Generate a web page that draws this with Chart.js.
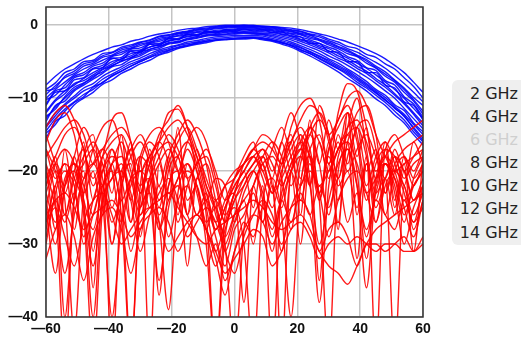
<!DOCTYPE html>
<html>
<head>
<meta charset="utf-8">
<script src="https://cdn.jsdelivr.net/npm/chart.js@4"></script>
<style>
  html, body { margin: 0; padding: 0; background: #fff; overflow: hidden; }
  #wrap { position: absolute; left: 0; top: 0; width: 440px; height: 340px; }
  #legend {
    position: absolute; left: 452px; top: 80px; width: 66px; height: 163px;
    padding: 2px 3px 0 0; background: #efefef; border-radius: 6px 0 0 6px;
    font-family: "DejaVu Sans", sans-serif; font-size: 16px; line-height: 23.1px;
    text-align: right; color: #222;
  }
  #legend .off { color: #cfcfcf; }
</style>
</head>
<body>
<div id="wrap"><canvas id="patternChart" width="440" height="340"></canvas></div>
<div id="legend"></div>
<script>
const angles = [-60,-57,-54,-51,-48,-45,-42,-39,-36,-33,-30,-27,-24,-21,-18,-15,-12,-9,-6,-3,0,3,6,9,12,15,18,21,24,27,30,33,36,39,42,45,48,51,54,57,60];
const freqLabels = ["2 GHz", "4 GHz", "6 GHz", "8 GHz", "10 GHz", "12 GHz", "14 GHz"];
const hiddenFreqs = ["6 GHz"];

// co-polar cuts (blue), 3 cuts per frequency
const copol2 = [
  [-8.2,-7.0,-6.0,-5.3,-4.6,-4.0,-3.5,-3.0,-2.7,-2.2,-1.9,-1.5,-1.2,-1.0,-0.7,-0.5,-0.4,-0.2,-0.1,0,0,0,-0.1,-0.1,-0.2,-0.3,-0.4,-0.6,-0.9,-1.2,-1.5,-1.9,-2.3,-2.8,-3.3,-3.9,-4.6,-5.5,-6.5,-7.8,-9.2],
  [-14.5,-12.8,-11.5,-10.5,-9.5,-8.8,-7.8,-7.0,-6.3,-5.6,-5.0,-4.4,-3.8,-3.4,-3.0,-2.7,-2.5,-2.2,-2.0,-1.9,-1.9,-1.8,-1.7,-1.9,-2.1,-2.4,-2.8,-3.3,-3.9,-4.5,-5.2,-5.9,-6.6,-7.5,-8.4,-9.3,-10.3,-11.3,-12.5,-14.0,-15.5],
  [-11.0,-9.2,-9.0,-7.5,-7.2,-6.0,-5.8,-4.5,-4.8,-3.6,-3.8,-2.6,-2.8,-1.8,-2.0,-1.2,-1.5,-0.8,-1.1,-0.6,-0.9,-0.5,-0.8,-0.6,-1.0,-0.9,-1.5,-1.6,-2.5,-2.5,-3.6,-3.7,-5.0,-5.0,-6.5,-6.5,-8.2,-8.6,-10.5,-11.0,-13.0]
];
const copol4 = [
  [-12.5,-11.5,-9.8,-8.5,-7.9,-7.2,-6.1,-5.6,-4.9,-4.5,-3.7,-3.3,-2.9,-2.4,-2.2,-1.8,-1.6,-1.3,-1.2,-1.0,-1.1,-0.9,-1.0,-1.1,-1.2,-1.5,-1.8,-2.2,-2.7,-3.2,-3.8,-4.5,-5.1,-5.9,-6.6,-7.6,-8.5,-9.6,-10.8,-12.2,-13.8],
  [-9.5,-8.3,-7.2,-6.6,-5.6,-5.2,-4.4,-4.1,-3.4,-3.1,-2.6,-2.3,-1.8,-1.6,-1.2,-1.0,-0.7,-0.6,-0.4,-0.3,-0.2,-0.2,-0.2,-0.3,-0.4,-0.6,-0.8,-1.1,-1.4,-1.9,-2.3,-2.9,-3.4,-4.1,-4.7,-5.6,-6.4,-7.5,-8.6,-9.9,-11.0],
  [-13.2,-11.0,-10.4,-9.0,-8.2,-7.4,-6.6,-5.7,-5.4,-4.6,-4.2,-3.5,-3.2,-2.6,-2.4,-2.0,-1.8,-1.5,-1.4,-1.3,-1.2,-1.1,-1.2,-1.3,-1.6,-1.9,-2.3,-2.8,-3.3,-3.9,-4.6,-5.2,-6.0,-6.8,-7.7,-8.8,-9.6,-10.9,-11.7,-13.4,-14.6]
];
const copol6 = [];
const copol8 = [
  [-10.2,-9.6,-8.2,-7.0,-6.5,-5.6,-5.2,-4.3,-4.0,-3.3,-3.1,-2.5,-2.2,-1.8,-1.5,-1.3,-1.0,-0.9,-0.7,-0.6,-0.5,-0.4,-0.4,-0.5,-0.6,-0.8,-1.1,-1.3,-1.8,-2.1,-2.7,-3.2,-3.9,-4.3,-5.2,-5.9,-7.0,-7.8,-9.2,-10.4,-12.2],
  [-15.5,-13.2,-12.4,-10.9,-10.0,-9.2,-8.1,-7.5,-6.6,-6.0,-5.3,-4.8,-4.1,-3.7,-3.2,-2.9,-2.6,-2.4,-2.1,-2.0,-1.9,-1.9,-1.8,-2.0,-2.2,-2.6,-3.0,-3.6,-4.2,-4.9,-5.6,-6.4,-7.3,-8.1,-9.0,-10.1,-11.0,-12.3,-13.4,-15.0,-16.4],
  [-8.8,-7.9,-6.5,-6.0,-5.0,-4.8,-3.9,-3.7,-3.0,-2.7,-2.3,-2.0,-1.5,-1.3,-1.0,-0.8,-0.5,-0.4,-0.2,-0.1,-0.1,0,0,-0.2,-0.2,-0.4,-0.6,-0.8,-1.2,-1.4,-1.9,-2.3,-2.9,-3.2,-4.0,-4.4,-5.3,-6.0,-7.2,-8.4,-10.0]
];
const copol10 = [
  [-12.0,-10.4,-9.4,-8.0,-7.6,-6.8,-6.0,-5.3,-4.6,-4.2,-3.5,-3.0,-2.6,-2.2,-1.9,-1.6,-1.4,-1.1,-1.0,-0.9,-0.8,-0.8,-0.8,-0.9,-1.0,-1.3,-1.6,-2.0,-2.4,-3.0,-3.5,-4.2,-4.8,-5.6,-6.3,-7.3,-8.2,-9.4,-10.6,-12.0,-13.4],
  [-13.8,-12.0,-10.8,-9.7,-8.6,-8.0,-7.0,-6.3,-5.7,-5.0,-4.5,-3.9,-3.4,-3.0,-2.7,-2.3,-2.1,-1.8,-1.6,-1.5,-1.4,-1.4,-1.4,-1.5,-1.8,-2.1,-2.5,-3.0,-3.6,-4.2,-4.8,-5.5,-6.2,-7.1,-8.0,-9.0,-9.9,-11.1,-12.2,-13.6,-15.0],
  [-10.8,-9.0,-8.6,-7.2,-6.8,-5.9,-5.5,-4.6,-4.4,-3.5,-3.4,-2.6,-2.5,-1.9,-1.8,-1.3,-1.3,-0.9,-0.9,-0.7,-0.6,-0.5,-0.5,-0.6,-0.7,-1.0,-1.2,-1.6,-2.0,-2.5,-3.0,-3.5,-4.3,-4.8,-5.8,-6.2,-7.6,-8.2,-9.8,-10.8,-12.6]
];
const copol12 = [
  [-9.0,-8.6,-7.0,-6.3,-5.3,-5.0,-4.2,-3.8,-3.2,-2.9,-2.4,-2.1,-1.6,-1.4,-1.1,-0.9,-0.6,-0.5,-0.3,-0.2,-0.1,-0.1,-0.1,-0.2,-0.3,-0.5,-0.7,-0.9,-1.3,-1.6,-2.1,-2.6,-3.2,-3.7,-4.4,-5.1,-5.9,-6.9,-8.0,-9.2,-10.5],
  [-14.0,-12.4,-11.0,-10.0,-9.0,-8.4,-7.4,-6.7,-6.0,-5.3,-4.8,-4.2,-3.6,-3.2,-2.8,-2.5,-2.3,-2.0,-1.8,-1.7,-1.6,-1.6,-1.6,-1.7,-2.0,-2.3,-2.7,-3.1,-3.7,-4.3,-5.0,-5.7,-6.4,-7.3,-8.2,-9.2,-10.2,-11.4,-12.4,-14.2,-15.8],
  [-11.8,-10.2,-9.0,-8.2,-7.3,-6.5,-5.8,-5.0,-4.6,-3.9,-3.6,-3.0,-2.7,-2.1,-1.9,-1.5,-1.3,-1.0,-0.9,-0.8,-0.7,-0.6,-0.6,-0.7,-0.8,-1.2,-1.4,-1.9,-2.2,-2.8,-3.2,-3.9,-4.5,-5.2,-5.9,-6.8,-7.8,-8.8,-10.0,-11.4,-12.8]
];
const copol14 = [
  [-12.8,-11.2,-10.0,-8.8,-8.0,-7.0,-6.4,-5.5,-5.0,-4.4,-4.0,-3.3,-3.0,-2.5,-2.3,-1.9,-1.7,-1.4,-1.3,-1.2,-1.0,-1.0,-1.1,-1.2,-1.4,-1.7,-2.0,-2.5,-3.0,-3.5,-4.2,-4.8,-5.5,-6.3,-7.1,-8.0,-9.0,-10.0,-11.4,-12.8,-14.2],
  [-10.0,-8.8,-7.8,-6.8,-6.0,-5.4,-4.8,-4.2,-3.7,-3.2,-2.8,-2.4,-2.0,-1.7,-1.4,-1.1,-0.9,-0.7,-0.5,-0.4,-0.3,-0.3,-0.3,-0.4,-0.5,-0.7,-0.9,-1.2,-1.6,-2.0,-2.5,-3.0,-3.6,-4.2,-4.9,-5.8,-6.7,-7.6,-8.8,-10.2,-11.8],
  [-14.8,-13.6,-11.8,-10.6,-9.8,-8.5,-7.9,-6.9,-6.3,-5.6,-5.0,-4.4,-4.0,-3.5,-3.1,-2.8,-2.4,-2.2,-2.0,-1.9,-1.8,-1.7,-1.7,-1.8,-2.0,-2.4,-2.8,-3.4,-3.9,-4.6,-5.3,-6.0,-6.8,-7.8,-8.6,-9.6,-10.6,-11.8,-13.0,-14.6,-16.0]
];

// cross-polar cuts (red), 4 cuts per frequency
const xpol2 = [
  [-18,-16,-14,-13,-15,-19,-17,-15,-14,-16,-20,-18,-16,-14,-13,-15,-18,-22,-25,-22,-20,-19,-17,-16,-17,-19,-16,-13,-11,-12,-15,-13,-10,-9,-11,-15,-18,-20,-19,-18,-17],
  [-24,-30,-22,-20,-25,-33,-24,-21,-19,-23,-28,-22,-19,-17,-20,-26,-21,-19,-24,-30,-26,-22,-20,-23,-29,-24,-20,-18,-22,-30,-24,-19,-17,-22,-28,-23,-19,-21,-26,-22,-20],
  [-20,-25,-34,-26,-21,-19,-24,-40,-27,-22,-20,-23,-35,-25,-21,-19,-22,-28,-33,-28,-24,-22,-20,-24,-31,-23,-19,-17,-21,-38,-22,-17,-15,-20,-32,-21,-18,-20,-25,-29,-24],
  [-22,-18,-26,-20,-17,-24,-19,-30,-21,-17,-23,-18,-28,-20,-18,-24,-22,-27,-25,-29,-26,-24,-22,-19,-23,-18,-15,-21,-14,-19,-13,-17,-12,-18,-14,-22,-16,-24,-18,-20,-17]
];
const xpol4 = [
  [-27,-22,-19,-21,-26,-45,-25,-21,-20,-24,-31,-26,-23,-21,-24,-29,-27,-25,-27,-31,-34,-29,-26,-24,-26,-30,-25,-22,-20,-23,-29,-24,-21,-20,-23,-27,-22,-20,-22,-26,-23],
  [-16,-13,-12,-15,-21,-17,-14,-13,-17,-24,-18,-15,-14,-16,-20,-16,-14,-16,-21,-26,-23,-19,-17,-15,-16,-19,-14,-11,-10,-13,-19,-12,-8,-9,-14,-21,-17,-15,-18,-22,-19],
  [-22,-19,-24,-42,-23,-19,-17,-20,-27,-21,-18,-20,-26,-22,-18,-16,-19,-24,-28,-25,-22,-20,-18,-21,-25,-20,-17,-15,-18,-24,-17,-13,-11,-15,-22,-18,-16,-19,-23,-27,-22],
  [-17,-21,-19,-28,-18,-15,-22,-17,-21,-16,-25,-17,-22,-18,-26,-19,-23,-28,-24,-27,-23,-20,-25,-18,-21,-16,-20,-15,-22,-16,-21,-15,-19,-14,-20,-17,-23,-18,-22,-16,-19]
];
const xpol6 = [];
const xpol8 = [
  [-19,-28,-17,-24,-16,-36,-18,-23,-15,-27,-18,-45,-19,-24,-14,-26,-17,-22,-25,-31,-27,-24,-30,-22,-45,-21,-16,-26,-13,-24,-16,-28,-12,-26,-18,-45,-17,-25,-19,-31,-18],
  [-26,-24,-23,-25,-28,-26,-25,-24,-26,-29,-27,-25,-24,-23,-25,-27,-29,-30,-28,-27,-26,-25,-24,-25,-27,-28,-27,-26,-28,-31,-33,-34,-35.5,-33,-30,-28,-27,-26,-25,-24,-23],
  [-30,-23,-20,-22,-29,-24,-20,-18,-22,-45,-22,-18,-16,-19,-27,-22,-19,-18,-22,-27,-24,-21,-19,-18,-22,-31,-20,-17,-15,-19,-26,-18,-15,-14,-18,-25,-21,-18,-20,-24,-21],
  [-25,-20,-22,-18,-23,-20,-26,-19,-24,-21,-20,-25,-22,-29,-24,-22,-26,-24,-29,-33,-28,-26,-23,-27,-22,-25,-20,-24,-19,-23,-18,-22,-20,-25,-19,-23,-21,-26,-20,-24,-22]
];
const xpol10 = [
  [-32,-28,-26,-29,-35,-29,-26,-25,-28,-34,-28,-26,-25,-27,-31,-28,-26,-28,-32,-37,-31,-28,-26,-27,-30,-27,-25,-24,-26,-31,-28,-27,-29,-33,-30,-30,-31,-30,-29,-31,-30],
  [-21,-18,-15,-14,-17,-22,-18,-13,-12,-16,-23,-19,-15,-13,-11,-14,-20,-24,-21,-22,-27,-23,-20,-18,-16,-18,-22,-18,-14,-12,-15,-21,-16,-12,-11,-15,-23,-19,-17,-16,-15],
  [-25,-34,-22,-19,-24,-40,-23,-20,-26,-45,-24,-21,-27,-39,-23,-20,-22,-30,-45,-29,-25,-30,-45,-24,-21,-26,-40,-22,-18,-24,-45,-20,-17,-22,-36,-22,-19,-23,-30,-25,-22],
  [-23,-27,-21,-19,-22,-26,-20,-17,-21,-27,-19,-16,-18,-23,-21,-17,-20,-25,-31,-27,-23,-21,-19,-17,-20,-16,-12,-16,-22,-11,-15,-21,-14,-10,-17,-24,-19,-22,-27,-21,-18]
];
const xpol12 = [
  [-17,-20,-26,-21,-18,-16,-19,-25,-20,-17,-15,-18,-24,-19,-16,-14,-17,-21,-24,-22,-21,-19,-17,-19,-23,-19,-16,-14,-17,-23,-17,-14,-12,-16,-24,-19,-17,-18,-21,-19,-18],
  [-23,-19,-17,-19,-24,-28,-22,-19,-18,-21,-26,-21,-16,-12,-11.5,-14,-18,-23,-27,-24,-21,-19,-18,-20,-23,-21,-18,-16,-18,-22,-20,-17,-16,-19,-23,-21,-19,-21,-24,-22,-20],
  [-28,-22,-40,-24,-20,-31,-22,-45,-23,-19,-29,-21,-37,-22,-20,-33,-21,-26,-45,-26,-23,-38,-22,-27,-21,-45,-20,-30,-18,-35,-19,-27,-16,-32,-19,-27,-21,-45,-22,-28,-24],
  [-29,-24,-27,-23,-30,-26,-22,-27,-24,-31,-25,-23,-28,-24,-22,-26,-29,-33,-30,-35,-31,-27,-29,-25,-28,-24,-27,-23,-26,-22,-25,-21,-27,-23,-29,-24,-26,-28,-24,-27,-25]
];
const xpol14 = [
  [-27,-25,-29,-33,-27,-24,-23,-26,-30,-28,-26,-25,-27,-31,-29,-27,-26,-28,-31,-34,-32,-30,-28,-29,-33,-31,-28,-27,-29,-32,-30,-29,-30,-29,-30,-31,-30,-30,-31,-31,-29],
  [-14,-12,-11,-13,-17,-21,-18,-16,-15,-18,-22,-19,-17,-16,-18,-21,-19,-17,-20,-24,-22,-20,-18,-17,-19,-22,-19,-16,-14,-16,-20,-17,-14,-13,-16,-20,-18,-16,-15,-14,-13],
  [-19,-24,-45,-23,-19,-17,-21,-30,-22,-18,-16,-19,-25,-18,-15,-13,-15,-19,-26,-30,-45,-28,-22,-19,-18,-21,-28,-19,-15,-13,-16,-24,-18,-14,-13,-17,-26,-20,-18,-21,-19],
  [-15,-19,-23,-18,-14,-17,-22,-19,-16,-20,-25,-21,-18,-15,-17,-21,-26,-23,-28,-25,-21,-18,-16,-20,-17,-14,-18,-22,-17,-15,-19,-16,-20,-17,-15,-18,-21,-17,-20,-18,-16]
];

const copolByFreq = [copol2, copol4, copol6, copol8, copol10, copol12, copol14];
const xpolByFreq = [xpol2, xpol4, xpol6, xpol8, xpol10, xpol12, xpol14];

const datasets = [];
freqLabels.forEach((label, i) => {
  const hidden = hiddenFreqs.includes(label);
  xpolByFreq[i].forEach(cut => {
    datasets.push({
      label: label, data: cut.map((y, k) => ({ x: angles[k], y: y })), hidden: hidden, order: 0,
      borderColor: "rgba(255, 0, 0, 0.9)", borderWidth: 1.4,
      pointRadius: 0, cubicInterpolationMode: "monotone", fill: false,
    });
  });
  copolByFreq[i].forEach(cut => {
    datasets.push({
      label: label, data: cut.map((y, k) => ({ x: angles[k], y: y })), hidden: hidden, order: 1,
      borderColor: "rgba(0, 0, 255, 0.9)", borderWidth: 1.4,
      pointRadius: 0, cubicInterpolationMode: "monotone", fill: false,
    });
  });
});

// frame round the plot area
const framePlugin = {
  id: "frame",
  afterDraw(chart) {
    const a = chart.chartArea;
    const ctx = chart.ctx;
    ctx.save();
    ctx.strokeStyle = "#333";
    ctx.lineWidth = 1.5;
    ctx.strokeRect(a.left, a.top, a.right - a.left, a.bottom - a.top);
    ctx.restore();
  }
};

const tickFont = { family: "Liberation Sans", size: 14, weight: "bold" };
const minusLabel = (v) => String(v).replace("-", "\u2014");

const chart = new Chart(document.getElementById("patternChart").getContext("2d"), {
  type: "line",
  data: { datasets: datasets },
  options: {
    responsive: false,
    animation: false,
    layout: { padding: { top: 7, right: 17, left: 0, bottom: 0 } },
    plugins: { legend: { display: false }, tooltip: { enabled: false } },
    scales: {
      x: {
        type: "linear", min: -60, max: 60, z: 1,
        ticks: { stepSize: 20, padding: 4, autoSkip: false, maxRotation: 0, color: "#111", font: tickFont, callback: minusLabel },
        grid: { color: "rgba(190,190,190,0.9)", lineWidth: 1.5, drawTicks: false },
        border: { display: false },
        afterFit(scale) { scale.height = 23; scale.paddingLeft = 0; scale.paddingRight = 0; },
      },
      y: {
        type: "linear", min: -40, max: 2.5, z: 1,
        ticks: { stepSize: 10, padding: 8, autoSkip: false, color: "#111", font: tickFont, callback: minusLabel },
        grid: { color: "rgba(190,190,190,0.9)", lineWidth: 1.5, drawTicks: false },
        border: { display: false },
        afterBuildTicks(scale) { scale.ticks = scale.ticks.filter(t => t.value % 10 === 0); },
        afterFit(scale) { scale.width = 46; scale.paddingTop = 0; scale.paddingBottom = 0; },
      },
    },
  },
  plugins: [framePlugin],
});

const legendBox = document.getElementById("legend");
legendBox.innerHTML = freqLabels
  .map(l => `<div class="${hiddenFreqs.includes(l) ? "off" : ""}">${l}</div>`)
  .join("");
</script>
</body>
</html>
